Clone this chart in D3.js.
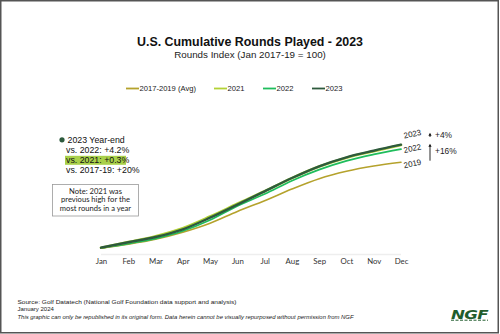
<!DOCTYPE html>
<html><head><meta charset="utf-8">
<script src="https://cdn.jsdelivr.net/npm/d3@7"></script>
<style>
html,body{margin:0;padding:0;background:#fff;}
svg{display:block;}
</style></head>
<body>
<svg id="chart" width="500" height="334"></svg>
<script>
const months = ["Jan","Feb","Mar","Apr","May","Jun","Jul","Aug","Sep","Oct","Nov","Dec"];
const avg1719 = [100,165,245,358,503,695,868,1056,1223,1342,1427,1487];
const y2021   = [108,200,296,425,612,818,1020,1232,1418,1562,1666,1766];
const y2022   = [105,177,258,379,556,782,976,1190,1368,1510,1614,1700];
const y2023   = [110,197,282,406,594,805,1019,1234,1423,1568,1674,1771];
const seriesNames = ["2017-2019 (Avg)","2021","2022","2023"];
const endLabels = ["2019","2022","2023"];

const colors = {"2017-2019 (Avg)":"#b5a22c","2021":"#b3d235","2022":"#1fbd5c","2023":"#2d5a3d"};
const widths = {"2017-2019 (Avg)":1.6,"2021":2.6,"2022":1.8,"2023":2.4};
const seriesData = {"2017-2019 (Avg)":avg1719,"2021":y2021,"2022":y2022,"2023":y2023};

const svg = d3.select("#chart");
const font = "'Liberation Sans', Arial, sans-serif";

// border
svg.append("rect").attr("x",0.75).attr("y",0.75).attr("width",497.5).attr("height",332)
  .attr("fill","#fff").attr("stroke","#555").attr("stroke-width",1.5);

// title
svg.append("text").attr("x",250).attr("y",45.5).attr("text-anchor","middle")
  .attr("font-family",font).attr("font-weight",700).attr("font-size",12.6).attr("fill","#111")
  .attr("textLength",226).attr("lengthAdjust","spacingAndGlyphs")
  .text("U.S. Cumulative Rounds Played - 2023");
svg.append("text").attr("x",250).attr("y",57.5).attr("text-anchor","middle")
  .attr("font-family",font).attr("font-size",9.8).attr("fill","#222")
  .text("Rounds Index (Jan 2017-19 = 100)");

// scales
const x = d3.scalePoint().domain(months).range([101,401]);
const y = d3.scaleLinear().domain([0,1900]).range([254.5,254.5-1900*0.062]);

// baseline
svg.append("line").attr("x1",101).attr("x2",401).attr("y1",254.5).attr("y2",254.5)
  .attr("stroke","#eeeeee").attr("stroke-width",1.5);

// x axis
const ax = svg.append("g").attr("transform","translate(0,254)")
  .call(d3.axisBottom(x).tickSize(0).tickPadding(4.5));
ax.select(".domain").remove();
ax.selectAll("text").attr("font-family","Lato, sans-serif").attr("font-size",7.8).attr("fill","#333");

// lines
const line = d3.line().x((d,i)=>x(months[i])).y(d=>y(d)).curve(d3.curveMonotoneX);
const drawOrder = ["2017-2019 (Avg)","2022","2021","2023"];
drawOrder.forEach(n=>{
  svg.append("path").datum(seriesData[n]).attr("d",line).attr("fill","none")
    .attr("stroke",colors[n]).attr("stroke-width",widths[n]).attr("stroke-linecap","round");
});

// legend
const legX = [126,214,263,312];
seriesNames.forEach((n,i)=>{
  svg.append("line").attr("x1",legX[i]).attr("x2",legX[i]+13).attr("y1",88.5).attr("y2",88.5)
    .attr("stroke",colors[n]).attr("stroke-width",1.8);
  svg.append("text").attr("x",legX[i]+13.5).attr("y",91.2).attr("font-family",font)
    .attr("font-size",7.6).attr("fill","#222").text(n);
});

// end labels (rotated)
const endSeries = [avg1719,y2022,y2023];
const endOffsets = [4,2,-8];
endLabels.forEach((t,i)=>{
  const vx = x("Dec")+12, vy = y(endSeries[i][11])+endOffsets[i];
  svg.append("text").attr("transform",`translate(${vx},${vy}) rotate(-12)`)
    .attr("text-anchor","middle").attr("font-family",font).attr("font-size",8).attr("fill","#222").text(t);
});

// arrows (explicit heads)
function arrow(xp, yTop, yBot){
  svg.append("line").attr("x1",xp).attr("x2",xp).attr("y1",yBot).attr("y2",yTop+2)
    .attr("stroke","#111").attr("stroke-width",0.9);
  svg.append("path").attr("d",`M${xp-1.6},${yTop+3} L${xp},${yTop} L${xp+1.6},${yTop+3} Z`).attr("fill","#111");
}
arrow(430,132.8,137);
arrow(430,143.8,160.7);
svg.append("text").attr("x",435).attr("y",137.5).attr("font-family",font).attr("font-size",8.4).attr("fill","#222").text("+4%");
svg.append("text").attr("x",435).attr("y",153.5).attr("font-family",font).attr("font-size",8.4).attr("fill","#222").text("+16%");

// annotation
svg.append("circle").attr("cx",62).attr("cy",139.8).attr("r",2.6).attr("fill","#2d5a3d");
svg.append("rect").attr("x",65).attr("y",155.8).attr("width",61).attr("height",9).attr("fill","#a9d04a");
const ann = [["2023 Year-end",67.5,143],["vs. 2022: +4.2%",66,152.6],["vs. 2021: +0.3%",66,162.8],["vs. 2017-19: +20%",66,173.2]];
ann.forEach(a=>{
  svg.append("text").attr("x",a[1]).attr("y",a[2]).attr("font-family",font).attr("font-size",8.8)
    .attr("fill","#111").text(a[0]);
});

// note box
svg.append("rect").attr("x",52.5).attr("y",184.5).attr("width",86).attr("height",31.5)
  .attr("fill","#fff").attr("stroke","#999").attr("stroke-width",0.8);
["Note: 2021 was","previous high for the","most rounds in a year"].forEach((t,i)=>{
  svg.append("text").attr("x",95.5).attr("y",193.5+i*8.8).attr("text-anchor","middle")
    .attr("font-family","Lato, sans-serif").attr("font-size",7.6).attr("fill","#222").text(t);
});

// footer
svg.append("text").attr("x",17.5).attr("y",304).attr("font-family",font).attr("font-size",6.2).attr("fill","#222")
  .attr("textLength",219).attr("lengthAdjust","spacingAndGlyphs")
  .text("Source: Golf Datatech (National Golf Foundation data support and analysis)");
svg.append("text").attr("x",17.5).attr("y",311.3).attr("font-family",font).attr("font-size",6).attr("fill","#222")
  .text("January 2024");
svg.append("text").attr("x",17.5).attr("y",318.5).attr("font-family",font).attr("font-size",5.8).attr("font-style","italic").attr("fill","#222")
  .attr("textLength",336).attr("lengthAdjust","spacingAndGlyphs")
  .text("This graphic can only be republished in its original form. Data herein cannot be visually repurposed without permission from NGF");

// NGF logo
svg.append("text").attr("x",469.5).attr("y",318.5).attr("text-anchor","middle")
  .attr("font-family","'DejaVu Sans', sans-serif").attr("font-weight",700).attr("font-style","italic")
  .attr("font-size",12.5).attr("letter-spacing",-0.5).attr("fill","#1f5c2c")
  .attr("textLength",37).attr("lengthAdjust","spacingAndGlyphs").text("NGF");
svg.append("line").attr("x1",451).attr("x2",488).attr("y1",320.2).attr("y2",320.2)
  .attr("stroke","#1f5c2c").attr("stroke-width",1).attr("stroke-dasharray","3,1.5");
</script>
</body></html>
